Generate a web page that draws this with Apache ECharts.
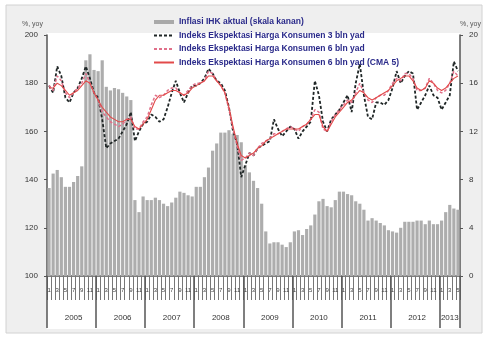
<!DOCTYPE html>
<html>
<head>
<meta charset="utf-8">
<script src="https://cdn.jsdelivr.net/npm/echarts@6/dist/echarts.min.js"></script>
<style>
  html, body { margin: 0; padding: 0; background: #ffffff; }
  #chart { width: 487px; height: 337px; }
</style>
</head>
<body>
<div id="chart"></div>
<script>
// Monthly observations, Jan 2005 – May 2013
const years = ['2005', '2006', '2007', '2008', '2009', '2010', '2011', '2012', '2013'];
const monthsPerYear = [12, 12, 12, 12, 12, 12, 12, 12, 5];

// Actual CPI inflation, % yoy (right scale)
const inflation = [
  7.3, 8.5, 8.8, 8.2, 7.4, 7.4, 7.8, 8.3, 9.1, 17.9, 18.4, 17.1,
  17.0, 17.9, 15.7, 15.4, 15.6, 15.5, 15.2, 14.9, 14.6, 6.3, 5.3, 6.6,
  6.3, 6.3, 6.5, 6.3, 6.0, 5.8, 6.1, 6.5, 7.0, 6.9, 6.7, 6.6,
  7.4, 7.4, 8.2, 9.0, 10.4, 11.0, 11.9, 11.9, 12.1, 11.8, 11.7, 11.1,
  9.2, 8.6, 7.9, 7.3, 6.0, 3.7, 2.7, 2.8, 2.8, 2.6, 2.4, 2.8,
  3.7, 3.8, 3.4, 3.9, 4.2, 5.1, 6.2, 6.4, 5.8, 5.7, 6.3, 7.0,
  7.0, 6.8, 6.7, 6.2, 6.0, 5.5, 4.6, 4.8, 4.6, 4.4, 4.2, 3.8,
  3.7, 3.6, 4.0, 4.5, 4.5, 4.5, 4.6, 4.6, 4.3, 4.6, 4.3, 4.3,
  4.6, 5.3, 5.9, 5.6, 5.5
];

// Consumer price expectation index, 3 months ahead
const expect3m = [
  179, 176, 187, 183, 174, 172, 176, 178, 182, 187, 182, 176,
  174, 165, 153, 155, 156, 157, 160, 163, 168, 156, 160, 163,
  164, 167, 166, 164, 165, 170, 176, 181, 176, 172, 176, 179,
  179, 180, 182, 186, 184, 181, 180, 177, 170, 160, 155, 141,
  146, 151, 150, 153, 154, 155, 156, 165, 161, 158, 160, 162,
  161, 157, 160, 162, 164, 181, 175, 164, 160, 165, 167, 169,
  172, 175, 168, 180, 188, 175, 166, 165, 172, 172, 171, 173,
  178, 185, 180, 183, 185, 184, 169, 172, 175, 179, 175, 174,
  169, 172, 175, 189, 185
];

// Consumer price expectation index, 6 months ahead
const expect6m = [
  179, 177, 183, 181, 176, 174, 176, 178, 180, 184, 180, 176,
  173, 168, 166, 164, 163, 162, 163, 165, 166, 161, 161, 164,
  166, 171, 175, 174, 175, 177, 178, 178, 176, 175, 177, 179,
  180, 180, 181, 185, 184, 181, 179, 176, 169, 161, 154, 148,
  149, 151, 150, 153, 155, 156, 157, 159, 159, 160, 161, 162,
  161, 160, 162, 163, 165, 169, 168, 161, 160, 164, 167, 169,
  171, 173, 172, 176, 180, 176, 173, 172, 174, 175, 175, 177,
  180, 182, 181, 184, 184, 182, 177, 177, 178, 182, 180, 177,
  176, 177, 180, 185, 183
];

// Same 6-month index, centred moving average (5)
const expect6mCma = [
  178, 178, 180, 179, 177, 175, 176, 177, 179, 181, 180, 176,
  173, 170, 168, 166, 165, 164, 164, 165, 165, 162, 161, 163,
  165, 169, 173, 175, 175, 176, 177, 177, 176, 175, 176, 178,
  179, 180, 181, 183, 183, 181, 179, 176, 170, 162, 155, 150,
  149, 150, 151, 153, 154, 156, 157, 158, 159, 160, 161, 161,
  161, 161, 162, 163, 165, 167, 167, 162, 160, 163, 166, 168,
  170, 172, 173, 175, 177, 176, 174, 173, 174, 175, 176, 177,
  179, 181, 182, 183, 183, 181, 178, 177, 178, 181, 180, 178,
  177, 178, 180, 182, 183
];

const seriesNames = [
  'Inflasi IHK aktual (skala kanan)',
  'Indeks Ekspektasi Harga Konsumen 3 bln yad',
  'Indeks Ekspektasi Harga Konsumen 6 bln yad',
  'Indeks Ekspektasi Harga Konsumen 6 bln yad (CMA 5)'
];

// Build month and year category lists
const monthLabels = [];
const yearOfMonth = [];
const yearLabelAt = {};
years.forEach(function (y, yi) {
  const n = monthsPerYear[yi];
  const start = monthLabels.length;
  yearLabelAt[start + Math.floor(n / 2)] = true;
  for (let m = 1; m <= n; m++) {
    monthLabels.push(String(m));
    yearOfMonth.push(y);
  }
});

const chart = echarts.init(document.getElementById('chart'), null, { renderer: 'canvas' });
const font = 'Liberation Sans, Arial, sans-serif';
const hiddenSymbol = { opacity: 0 };

chart.setOption({
  animation: false,
  backgroundColor: '#ffffff',
  textStyle: { fontFamily: font },
  graphic: [
    { type: 'rect', z: -10, shape: { x: 6, y: 5, width: 476, height: 328 },
      style: { fill: '#efefef', stroke: '#d2d2d2', lineWidth: 1 } },
    { type: 'rect', z: -9, shape: { x: 47, y: 33, width: 413, height: 296 },
      style: { fill: '#ffffff' } }
  ],
  grid: { left: 47, right: 27, top: 35, bottom: 61, containLabel: false },
  legend: {
    orient: 'vertical',
    left: 148,
    top: 12,
    itemWidth: 20,
    itemHeight: 4,
    itemGap: 3.5,
    textStyle: { color: '#2a2a8a', fontSize: 8.5, fontWeight: 'bold', lineHeight: 10, fontFamily: font },
    data: [
      { name: seriesNames[0], icon: 'rect', itemStyle: { color: '#a9a9a9' } },
      { name: seriesNames[1], itemStyle: hiddenSymbol },
      { name: seriesNames[2], itemStyle: hiddenSymbol },
      { name: seriesNames[3], itemStyle: hiddenSymbol }
    ]
  },
  xAxis: [
    {
      type: 'category',
      data: monthLabels,
      boundaryGap: true,
      axisLine: { lineStyle: { color: '#555', width: 1.5 } },
      axisTick: { show: true, interval: 0, length: 24, lineStyle: { color: '#777', width: 1 } },
      axisLabel: { interval: 1, rotate: 0, hideOverlap: false, fontSize: 6, color: '#444', margin: 11 },
      splitLine: { show: false }
    },
    {
      type: 'category',
      data: yearOfMonth,
      position: 'bottom',
      boundaryGap: true,
      axisLine: { show: false },
      axisTick: {
        show: true, length: 52,
        interval: function (i) { return i % 12 === 0; },
        lineStyle: { color: '#555', width: 1.5 }
      },
      axisLabel: {
        interval: function (i) { return !!yearLabelAt[i]; },
        fontSize: 8, color: '#333', margin: 38
      },
      splitLine: { show: false }
    }
  ],
  yAxis: [
    {
      type: 'value', min: 100, max: 200, interval: 20,
      name: '%, yoy', nameLocation: 'end', nameGap: 7,
      nameTextStyle: { fontSize: 7, color: '#555', align: 'right', padding: [0, 4, 0, 0] },
      axisLine: { show: true, lineStyle: { color: '#555', width: 1.5 } },
      axisTick: { show: true, length: 3, lineStyle: { color: '#555' } },
      axisLabel: { fontSize: 8, color: '#333', margin: 9 },
      splitLine: { show: false }
    },
    {
      type: 'value', min: 0, max: 20, interval: 4,
      name: '%, yoy', nameLocation: 'end', nameGap: 7,
      nameTextStyle: { fontSize: 7, color: '#555', align: 'left', padding: [0, 0, 0, 0] },
      axisLine: { show: true, lineStyle: { color: '#555', width: 1.5 } },
      axisTick: { show: true, length: 3, lineStyle: { color: '#555' } },
      axisLabel: { fontSize: 8, color: '#333', margin: 9 },
      splitLine: { show: false }
    }
  ],
  series: [
    {
      name: seriesNames[0], type: 'bar', xAxisIndex: 0, yAxisIndex: 1,
      data: inflation, barCategoryGap: '22%',
      itemStyle: { color: '#adadad' }
    },
    {
      name: seriesNames[1], type: 'line', yAxisIndex: 0, data: expect3m,
      symbol: 'none', color: '#1f2626',
      lineStyle: { color: '#1f2626', width: 1.8, type: [3, 2] }
    },
    {
      name: seriesNames[2], type: 'line', yAxisIndex: 0, data: expect6m,
      symbol: 'none', color: '#e0708a',
      lineStyle: { color: '#e0708a', width: 1.5, type: [3, 2] }
    },
    {
      name: seriesNames[3], type: 'line', yAxisIndex: 0, data: expect6mCma,
      symbol: 'none', color: '#e24a4a',
      lineStyle: { color: '#e24a4a', width: 1.1 }
    }
  ]
});
</script>
</body>
</html>
